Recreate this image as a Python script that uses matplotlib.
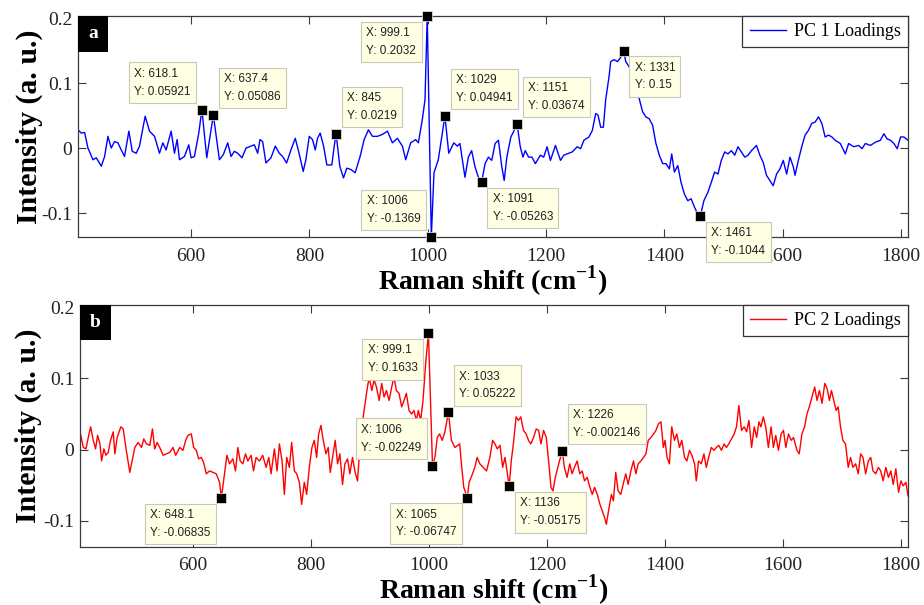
import numpy as np
import matplotlib
matplotlib.use("Agg")
import matplotlib.pyplot as plt
from matplotlib.patches import Rectangle
from matplotlib.ticker import FuncFormatter

plt.rcParams['axes.unicode_minus'] = False
plt.rcParams['mathtext.fontset'] = 'custom'
plt.rcParams['mathtext.rm'] = 'Liberation Serif'
plt.rcParams['mathtext.bf'] = 'Liberation Serif:bold'

# PC 1 loadings (panel a)
shift_a = [408.6, 414.2, 419.8, 425.4, 433.9, 439.5, 448.0, 453.6, 459.2, 464.8, 470.4, 476.1, 481.7, 487.3,
           494.6, 500.3, 507.0, 512.6, 522.2, 529.5, 538.0, 546.4, 552.0, 557.6, 566.1, 571.7, 576.2, 580.2,
           588.6, 595.9, 599.8, 605.5, 612.8, 618.1, 626.3, 637.4, 647.7, 654.4, 661.7, 667.4, 673.0, 678.6,
           685.9, 692.7, 701.1, 706.7, 712.4, 716.3, 720.8, 726.4, 734.9, 742.2, 748.9, 754.6, 761.3, 768.6,
           775.9, 781.6, 789.4, 793.9, 799.6, 805.2, 809.7, 813.6, 818.1, 823.8, 829.4, 837.8, 841.8, 845.0,
           851.3, 857.5, 863.1, 869.9, 877.2, 885.6, 892.4, 899.7, 906.5, 914.9, 923.3, 931.8, 940.2, 948.6,
           957.1, 962.7, 971.1, 979.6, 984.1, 990.8, 995.3, 999.1, 1006.0, 1010.5, 1017.8, 1023.0, 1029.0,
           1035.5, 1044.0, 1050.0, 1054.4, 1062.9, 1068.6, 1074.2, 1079.9, 1085.6, 1091.0, 1096.9, 1102.5,
           1108.2, 1113.9, 1119.5, 1125.2, 1129.2, 1133.7, 1140.5, 1145.0, 1151.0, 1156.4, 1160.9, 1164.9,
           1170.5, 1176.2, 1181.9, 1190.4, 1196.0, 1201.7, 1207.4, 1215.9, 1224.4, 1230.0, 1235.7, 1244.2,
           1252.7, 1258.4, 1264.0, 1272.5, 1278.2, 1283.9, 1287.8, 1292.4, 1296.9, 1300.8, 1306.5, 1309.3,
           1315.0, 1320.7, 1325.2, 1331.0, 1334.8, 1340.5, 1346.2, 1351.8, 1357.5, 1363.2, 1368.8, 1374.5,
           1380.2, 1385.8, 1391.5, 1397.2, 1402.8, 1408.5, 1412.5, 1417.0, 1422.7, 1428.3, 1434.0, 1439.7,
           1445.3, 1451.0, 1456.7, 1461.0, 1466.9, 1473.7, 1479.3, 1485.0, 1490.7, 1496.3, 1502.0, 1507.6,
           1513.3, 1519.0, 1524.6, 1530.3, 1536.0, 1541.6, 1547.3, 1555.8, 1561.5, 1567.1, 1572.8, 1578.5,
           1584.1, 1589.8, 1595.5, 1601.1, 1606.8, 1612.5, 1618.1, 1621.0, 1626.6, 1632.3, 1638.0, 1643.6,
           1649.3, 1655.0, 1660.6, 1666.3, 1671.9, 1677.6, 1683.3, 1688.9, 1697.5, 1706.0, 1711.6, 1720.1,
           1728.6, 1734.3, 1739.9, 1748.4, 1756.9, 1765.4, 1771.1, 1776.8, 1782.4, 1788.1, 1793.8, 1799.4,
           1805.1, 1812.0]
pc1 = [0.028, 0.023, 0.024, 0.000, -0.018, -0.015, -0.028, -0.013, 0.018, 0.000, 0.010, 0.008, -0.003, -0.013,
       0.026, -0.005, -0.008, 0.003, 0.049, 0.026, 0.018, -0.008, 0.008, -0.003, 0.026, -0.008, 0.013, -0.018,
       -0.013, 0.005, -0.015, -0.013, 0.023, 0.05921, -0.015, 0.05086, -0.018, -0.010, 0.008, -0.013, -0.005, -0.008,
       -0.015, 0.000, 0.003, 0.005, -0.008, 0.013, 0.010, -0.023, -0.015, 0.003, -0.008, -0.013, -0.023, -0.003,
       0.015, -0.005, -0.036, -0.018, 0.018, 0.013, -0.003, 0.015, 0.023, 0.003, -0.026, -0.026, 0.003, 0.0219,
       -0.028, -0.046, -0.031, -0.033, -0.038, -0.013, 0.013, 0.028, 0.018, 0.018, 0.021, 0.026, 0.008, 0.015,
       0.003, -0.018, 0.008, 0.013, 0.008, 0.044, 0.074, 0.2032, -0.1369, -0.038, -0.018, 0.013, 0.04941,
       -0.008, 0.008, 0.003, 0.007, -0.045, -0.014, -0.004, -0.029, -0.045, -0.05263, -0.024, -0.014,
       -0.019, 0.007, 0.012, -0.029, -0.050, -0.014, 0.017, 0.025, 0.03674, 0.002, -0.014, -0.004,
       -0.014, -0.014, -0.024, -0.011, -0.014, 0.002, -0.019, 0.004, -0.019, -0.011, -0.009, -0.006,
       0.002, -0.001, 0.012, 0.017, 0.027, 0.053, 0.051, 0.032, 0.032, 0.074, 0.110, 0.133,
       0.136, 0.133, 0.138, 0.15, 0.133, 0.125, 0.112, 0.094, 0.076, 0.056, 0.048, 0.045,
       0.035, 0.007, -0.011, -0.024, -0.024, -0.032, -0.009, -0.037, -0.027, -0.053, -0.071, -0.081,
       -0.078, -0.091, -0.102, -0.1044, -0.081, -0.068, -0.053, -0.037, -0.040, -0.019, -0.006, -0.009,
       -0.004, -0.011, 0.002, -0.006, -0.014, -0.011, -0.004, 0.004, -0.011, -0.022, -0.042, -0.050,
       -0.058, -0.040, -0.032, -0.019, -0.040, -0.014, -0.029, -0.042, -0.019, 0.002, 0.020, 0.027,
       0.038, 0.040, 0.048, 0.038, 0.017, 0.020, 0.017, 0.012, 0.007, -0.009, 0.007, 0.002,
       0.004, -0.001, 0.007, 0.004, 0.009, 0.012, 0.022, 0.014, 0.012, 0.007, -0.001, 0.017,
       0.017, 0.012]

# PC 2 loadings (panel b)
shift_b = [408.5, 414.1, 418.6, 422.5, 426.5, 431.0, 434.9, 438.3, 442.3, 445.1, 449.0, 452.4, 456.3, 460.3,
           464.8, 467.6, 471.5, 474.9, 477.7, 481.7, 486.2, 492.9, 497.5, 501.4, 507.0, 512.7, 516.6, 521.1,
           526.8, 531.3, 535.2, 539.2, 543.7, 549.3, 554.9, 560.6, 566.2, 570.7, 577.5, 583.1, 587.6, 591.5,
           597.2, 601.1, 605.6, 609.6, 614.1, 618.0, 622.5, 628.2, 633.8, 639.4, 645.1, 648.1, 653.5, 657.5,
           662.0, 667.6, 672.1, 676.1, 680.0, 684.5, 689.0, 693.0, 698.6, 702.5, 707.0, 712.7, 718.3, 723.9,
           728.5, 732.4, 738.0, 742.5, 746.5, 751.0, 754.9, 758.9, 763.4, 767.3, 771.8, 775.8, 780.3, 784.2,
           788.7, 792.7, 797.2, 801.7, 805.6, 809.6, 813.0, 816.9, 820.8, 825.4, 829.3, 832.7, 836.6, 841.1,
           845.1, 849.0, 853.5, 857.5, 862.0, 865.9, 870.4, 874.9, 878.9, 881.7, 886.2, 890.1, 894.1, 898.6,
           903.1, 907.0, 911.0, 915.5, 920.0, 923.9, 927.9, 932.4, 936.9, 940.8, 944.8, 949.3, 953.8, 957.7,
           961.7, 966.2, 970.7, 974.6, 978.6, 982.0, 985.9, 989.9, 994.4, 999.1, 1006.0, 1010.1, 1014.1,
           1018.0, 1022.5, 1027.0, 1033.0, 1038.0, 1044.0, 1052.1, 1055.0, 1059.0, 1065.0, 1068.1, 1073.8,
           1077.7, 1081.7, 1086.3, 1092.0, 1097.6, 1103.3, 1107.9, 1111.9, 1115.8, 1120.4, 1124.9, 1128.9,
           1136.0, 1139.5, 1143.1, 1147.7, 1151.7, 1155.6, 1160.2, 1164.7, 1168.7, 1172.7, 1177.3, 1181.8,
           1185.8, 1189.8, 1194.3, 1198.9, 1202.8, 1206.8, 1210.2, 1214.2, 1219.9, 1226.0, 1229.6, 1234.1,
           1238.7, 1242.6, 1246.6, 1251.2, 1255.7, 1259.7, 1263.7, 1268.2, 1272.8, 1276.8, 1280.8, 1285.3,
           1289.8, 1293.8, 1297.8, 1300.7, 1305.2, 1309.2, 1312.6, 1316.6, 1320.6, 1325.1, 1329.1, 1333.6,
           1337.6, 1342.2, 1346.7, 1350.7, 1354.7, 1359.2, 1363.8, 1367.8, 1371.7, 1376.3, 1380.8, 1384.8,
           1388.8, 1393.3, 1397.3, 1400.2, 1403.6, 1407.6, 1411.5, 1416.1, 1420.1, 1424.6, 1428.6, 1433.2,
           1437.1, 1441.7, 1445.7, 1450.2, 1453.1, 1457.0, 1461.6, 1466.1, 1470.1, 1474.1, 1478.6, 1483.2,
           1487.2, 1491.2, 1495.7, 1500.3, 1504.2, 1508.2, 1512.8, 1517.3, 1521.3, 1525.3, 1529.8, 1534.4,
           1538.4, 1542.3, 1546.9, 1551.4, 1555.4, 1559.4, 1562.8, 1566.8, 1570.8, 1575.3, 1579.9, 1583.9,
           1587.8, 1592.4, 1596.9, 1600.9, 1604.9, 1609.4, 1614.0, 1618.0, 1623.7, 1627.6, 1632.2, 1636.7,
           1640.7, 1644.7, 1649.2, 1653.8, 1657.8, 1661.8, 1666.3, 1670.9, 1674.8, 1678.8, 1682.2, 1686.2,
           1690.2, 1693.6, 1697.6, 1701.6, 1706.1, 1710.7, 1714.6, 1718.6, 1723.2, 1727.7, 1731.7, 1735.7,
           1740.2, 1744.8, 1748.8, 1752.7, 1757.3, 1761.8, 1765.8, 1769.8, 1774.4, 1778.9, 1782.9, 1786.9,
           1791.4, 1796.0, 1800.0, 1803.9, 1808.5, 1812.0]
pc2 = [0.025, 0.003, 0.001, 0.017, 0.032, 0.013, 0.001, 0.020, 0.008, -0.016, 0.001, -0.008, -0.004, 0.013,
       0.025, -0.006, 0.017, 0.025, 0.032, 0.029, 0.003, -0.032, -0.013, 0.003, 0.010, 0.003, 0.015, 0.008,
       0.006, 0.029, 0.001, 0.010, 0.003, -0.008, -0.006, -0.004, 0.003, -0.008, 0.003, -0.001, 0.013, 0.020,
       0.022, 0.003, -0.001, -0.013, -0.011, -0.018, -0.034, -0.030, -0.032, -0.034, -0.046, -0.06835, -0.034, -0.008,
       -0.020, -0.013, -0.030, 0.003, -0.016, -0.020, -0.006, -0.016, -0.008, -0.030, -0.011, -0.016, -0.008, -0.025,
       -0.011, -0.034, 0.001, -0.030, 0.008, -0.016, -0.063, -0.011, -0.025, 0.010, -0.030, -0.034, -0.046, -0.077,
       -0.046, -0.063, -0.025, 0.003, 0.013, -0.011, 0.022, 0.034, 0.013, -0.006, 0.003, -0.032, -0.011, 0.013,
       -0.020, -0.006, -0.049, -0.020, -0.013, -0.034, -0.011, -0.032, -0.044, -0.011, 0.032, 0.055, 0.079, 0.102,
       0.083, 0.098, 0.088, 0.069, 0.093, 0.074, 0.083, 0.069, 0.088, 0.102, 0.083, 0.079, 0.060, 0.069,
       0.079, 0.055, 0.050, 0.055, 0.041, 0.055, 0.041, 0.069, 0.121, 0.1633, -0.02249, -0.011, 0.017,
       0.022, 0.013, 0.025, 0.05222, 0.013, 0.003, 0.008, -0.020, -0.053, -0.06747, -0.046, -0.034,
       -0.025, -0.011, -0.020, -0.025, -0.030, -0.011, 0.013, 0.008, 0.001, 0.006, -0.025, -0.011,
       -0.05175, -0.016, 0.008, 0.046, 0.041, 0.046, 0.027, 0.022, 0.013, 0.008, 0.017, 0.029,
       0.027, 0.008, 0.027, 0.017, -0.016, -0.053, -0.058, -0.039, -0.020, -0.002146, -0.025, -0.039,
       -0.020, -0.034, -0.025, -0.016, -0.034, -0.030, -0.044, -0.039, -0.053, -0.063, -0.053, -0.063,
       -0.077, -0.086, -0.096, -0.105, -0.082, -0.063, -0.072, -0.032, -0.058, -0.063, -0.049, -0.034,
       -0.049, -0.030, -0.016, -0.034, -0.020, -0.016, -0.011, -0.006, 0.013, 0.017, 0.022, 0.027,
       0.036, 0.039, 0.003, 0.013, -0.011, -0.020, 0.032, 0.013, 0.022, 0.003, 0.013, -0.011,
       -0.016, -0.001, -0.008, -0.020, -0.044, -0.016, -0.020, -0.006, -0.025, -0.011, 0.003, -0.001,
       0.003, 0.006, -0.001, 0.008, 0.003, 0.008, 0.015, 0.022, 0.032, 0.062, 0.027, 0.032,
       0.025, 0.041, 0.003, 0.032, 0.017, 0.039, 0.032, 0.046, 0.032, 0.003, 0.032, 0.003,
       0.020, -0.001, 0.022, 0.027, 0.003, 0.022, 0.013, 0.017, -0.001, -0.006, 0.022, 0.032,
       0.050, 0.060, 0.074, 0.088, 0.069, 0.083, 0.065, 0.093, 0.086, 0.069, 0.083, 0.069,
       0.055, 0.060, 0.032, 0.013, 0.008, -0.025, -0.011, -0.025, -0.020, -0.034, -0.006, -0.011,
       -0.034, -0.016, -0.011, -0.030, -0.034, -0.025, -0.030, -0.044, -0.025, -0.039, -0.030, -0.049,
       -0.027, -0.060, -0.044, -0.051, -0.046, -0.065]

# data tips: x position and where the box sits (u/l = up/low, r/l = right/left)
tips_a = [(618.1, 'ul'), (637.4, 'ur'), (845.0, 'ur'), (999.1, 'll'), (1006.0, 'ul'),
          (1029.0, 'ur'), (1091.0, 'lr'), (1151.0, 'ur'), (1331.0, 'lr'), (1461.0, 'lr')]
tips_b = [(999.1, 'll'), (1006.0, 'ul'), (1033.0, 'ur'), (648.1, 'll'), (1065.0, 'll'),
          (1136.0, 'lr'), (1226.0, 'ur')]

W, H = 924, 605
fig = plt.figure(figsize=(W / 100, H / 100), dpi=100)
ax_a = fig.add_axes([78 / W, 1 - 237 / H, 830 / W, 221 / H])
ax_b = fig.add_axes([80 / W, 1 - 547 / H, 828 / W, 242 / H])

spine_col = '#3a3a3a'
serif = 'Liberation Serif'
sans = 'Liberation Sans'
ylo = min(min(pc1), min(pc2))
yhi = max(max(pc1), max(pc2))


def fmt_y(v, pos):
    return '0' if abs(v) < 1e-9 else '%g' % v


def add_tips(ax, xs, ys, tips):
    xs = np.array(xs)
    ys = np.array(ys)
    for xt, where in tips:
        i = np.argmin(np.abs(xs - xt))
        xv, yv = xs[i], ys[i]
        ax.plot(xv, yv, 's', ms=6.5, mfc='black', mec='#f4f4d0', mew=0.5, clip_on=False, zorder=5)
        dx = 11 if where[1] == 'r' else -11
        dy = 12 if where[0] == 'u' else -11
        ha = 'left' if where[1] == 'r' else 'right'
        va = 'bottom' if where[0] == 'u' else 'top'
        ax.annotate('X: %.4g\nY: %.4g' % (xv, yv), xy=(xv, yv), xytext=(dx, dy),
                    textcoords='offset pixels', ha=ha, va=va, multialignment='left',
                    fontsize=8.5, family=sans, color='#202020', linespacing=1.65, zorder=6,
                    annotation_clip=False,
                    bbox=dict(boxstyle='square,pad=0.45', fc='#ffffe4', ec='#c8c8b8', lw=0.8))


def style(ax, xs, ys, color, label, letter, box_w, box_h, xpad, ypad, tpad):
    ax.plot(xs, ys, color=color, lw=1.0, label=label)
    ax.set_xlim(min(xs), max(xs))
    ax.set_ylim(ylo, yhi)
    ax.set_xticks([600, 800, 1000, 1200, 1400, 1600, 1800])
    ax.set_yticks([-0.1, 0, 0.1, 0.2])
    ax.yaxis.set_major_formatter(FuncFormatter(fmt_y))
    ax.tick_params(direction='in', top=True, right=True, length=6, width=0.8, color=spine_col,
                   labelsize=14, labelcolor='#222222')
    ax.tick_params(axis='x', pad=tpad)
    ax.tick_params(axis='y', pad=4)
    for lab in ax.get_xticklabels() + ax.get_yticklabels():
        lab.set_family(serif)
    for s in ax.spines.values():
        s.set_color(spine_col)
        s.set_linewidth(0.9)
    ax.set_xlabel(r'Raman shift (cm$^{\mathbf{-1}}$)', family=serif, fontsize=20, fontweight='bold',
                  labelpad=xpad)
    ax.set_ylabel('Intensity (a. u.)', family=serif, fontsize=21.5, fontweight='bold', labelpad=ypad)
    leg = ax.legend(loc='upper right', borderaxespad=0, fancybox=False, framealpha=1,
                    edgecolor='#333333', handlelength=2.0, handletextpad=0.45, borderpad=0.4,
                    prop={'family': serif, 'size': 13})
    leg.get_frame().set_linewidth(0.9)
    pos = ax.get_position()
    w = box_w / (pos.width * W)
    h = box_h / (pos.height * H)
    ax.add_patch(Rectangle((0, 1 - h), w, h, transform=ax.transAxes, fc='black', ec='none',
                           zorder=7, clip_on=False))
    ax.text(w / 2, 1 - h / 2, letter, transform=ax.transAxes, ha='center', va='center',
            color='white', family=serif, fontsize=14, fontweight='bold', zorder=8)


style(ax_a, shift_a, pc1, '#0000ff', 'PC 1 Loadings', 'a', 30, 36, -1, -1, 8)
style(ax_b, shift_b, pc2, '#ff0000', 'PC 2 Loadings', 'b', 31, 35, -1, 1, 7)
add_tips(ax_a, shift_a, pc1, tips_a)
add_tips(ax_b, shift_b, pc2, tips_b)

fig.savefig('out.png', dpi=100, facecolor='white')
